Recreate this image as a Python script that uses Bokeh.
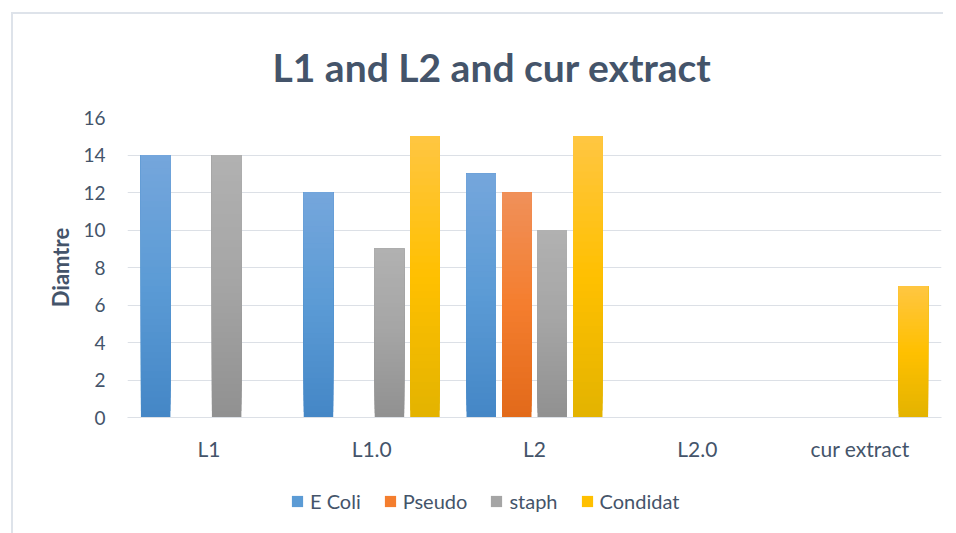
from bokeh.plotting import figure
from bokeh.layouts import column
from bokeh.models import (FactorRange, Range1d, FixedTicker, Legend, LegendItem,
                          ColumnDataSource, Title)
from bokeh.transform import dodge
from bokeh.embed import file_html
from bokeh.resources import INLINE

# ---------------- data ----------------
categories = ["L1", "L1.0", "L2", "L2.0", "cur extract"]
series_names = ["E Coli", "Pseudo", "staph", "Condidat"]
e_coli = [14, 12, 13, 0, 0]
pseudo = [0, 0, 12, 0, 0]
staph = [14, 9, 10, 0, 0]
condidat = [0, 15, 15, 0, 7]
y_ticks = [0, 2, 4, 6, 8, 10, 12, 14, 16]
title_text = "L1 and L2 and cur extract"
y_label = "Diamtre"

series_values = [e_coli, pseudo, staph, condidat]
# gradient stops (top, middle, bottom) per series
gradients = [
    ("#75A6DC", "#5B9BD5", "#4486C6"),
    ("#F0905A", "#F47E2E", "#E2691A"),
    ("#B1B1B1", "#A5A5A5", "#909090"),
    ("#FFC642", "#FFC000", "#E3B300"),
]

FONT = "Lato"
TXT = "#44546A"
GRID = "#DCE0E6"
BORDER = "#DEE3EA"


def hex2rgb(h):
    h = h.lstrip("#")
    return tuple(int(h[i:i + 2], 16) for i in (0, 2, 4))


def mix(c1, c2, t):
    a, b = hex2rgb(c1), hex2rgb(c2)
    return "#%02x%02x%02x" % tuple(round(a[i] + (b[i] - a[i]) * t) for i in range(3))


def grad_color(stops, t):
    top, mid, bot = stops
    if t < 0.5:
        return mix(bot, mid, t / 0.5)
    return mix(mid, top, (t - 0.5) / 0.5)


p = figure(x_range=FactorRange(*categories), y_range=Range1d(0, 16),
           frame_width=814, frame_height=300,
           min_border_left=114, min_border_right=2,
           min_border_top=99, min_border_bottom=50,
           output_backend="svg", toolbar_location=None,
           background_fill_color="white", border_fill_color="white")
p.x_range.range_padding = 0
p.x_range.group_padding = 0
p.outline_line_color = None

N = 40
step = 0.218
offsets = [-1.5 * step, -0.5 * step, 0.5 * step, 1.5 * step]
for name, vals, stops, off in zip(series_names, series_values, gradients, offsets):
    xs, bots, tops, cols = [], [], [], []
    for cat, v in zip(categories, vals):
        if v <= 0:
            continue
        # overlapping slices (each from its own bottom up to the value) -> smooth gradient
        for i in range(N):
            xs.append(cat)
            bots.append(v * i / N)
            tops.append(v)
            cols.append(grad_color(stops, (i + 0.5) / N))
    src = ColumnDataSource(dict(x=xs, bottom=bots, top=tops, color=cols))
    p.vbar(x=dodge("x", off, range=p.x_range), bottom="bottom", top="top",
           width=0.181, source=src, fill_color="color", line_color=None)

# axes
p.yaxis.ticker = FixedTicker(ticks=y_ticks)
p.yaxis.axis_line_color = None
p.yaxis.major_tick_line_color = None
p.yaxis.minor_tick_line_color = None
p.yaxis.major_tick_out = 0
p.yaxis.major_label_standoff = 22
p.yaxis.major_label_text_font = FONT
p.yaxis.major_label_text_font_size = "19px"
p.yaxis.major_label_text_color = TXT
p.yaxis.axis_label = y_label
p.yaxis.axis_label_text_font = FONT
p.yaxis.axis_label_text_font_size = "22px"
p.yaxis.axis_label_text_font_style = "bold"
p.yaxis.axis_label_text_color = TXT
p.yaxis.axis_label_standoff = 6

p.xaxis.axis_line_color = GRID
p.xaxis.axis_line_width = 1.2
p.xaxis.major_tick_line_color = None
p.xaxis.minor_tick_line_color = None
p.xaxis.major_tick_out = 0
p.xaxis.major_label_standoff = 18
p.xaxis.major_label_text_font = FONT
p.xaxis.major_label_text_font_size = "21px"
p.xaxis.major_label_text_color = TXT

p.xgrid.grid_line_color = None
p.ygrid.grid_line_color = GRID
p.ygrid.grid_line_width = 1.2

# title
p.add_layout(Title(text=title_text, text_font=FONT, text_font_size="39px",
                   text_font_style="bold", text_color=TXT, align="left",
                   offset=145, standoff=55), "above")

# ---------------- legend strip ----------------
lg = figure(width=930, height=52, x_range=Range1d(0, 1), y_range=Range1d(0, 1),
            x_axis_type=None, y_axis_type=None, min_border=0,
            output_backend="svg", toolbar_location=None,
            background_fill_color="white", border_fill_color="white")
lg.outline_line_color = None
lg.grid.grid_line_color = None
items = []
for name, stops in zip(series_names, gradients):
    # zero-size proxy glyph, only used to draw the legend swatch
    r = lg.vbar(x=[0], bottom=[0], top=[0], width=0, fill_color=stops[1],
                line_color=None)
    items.append(LegendItem(label=name, renderers=[r]))
legend = Legend(items=items, orientation="horizontal", location=(163, 6),
                glyph_width=14, glyph_height=14, label_standoff=6, spacing=22,
                padding=0, margin=0, border_line_color=None,
                background_fill_alpha=0,
                label_text_font=FONT, label_text_font_size="20px",
                label_text_color=TXT)
lg.add_layout(legend, "center")

layout = column(p, lg, spacing=0)
layout.styles = {"margin-left": "11px", "margin-top": "12px", "padding-bottom": "40px",
                 "border-left": "2px solid " + BORDER, "border-top": "2px solid " + BORDER}

open("out.html", "w").write(file_html(layout, INLINE))
